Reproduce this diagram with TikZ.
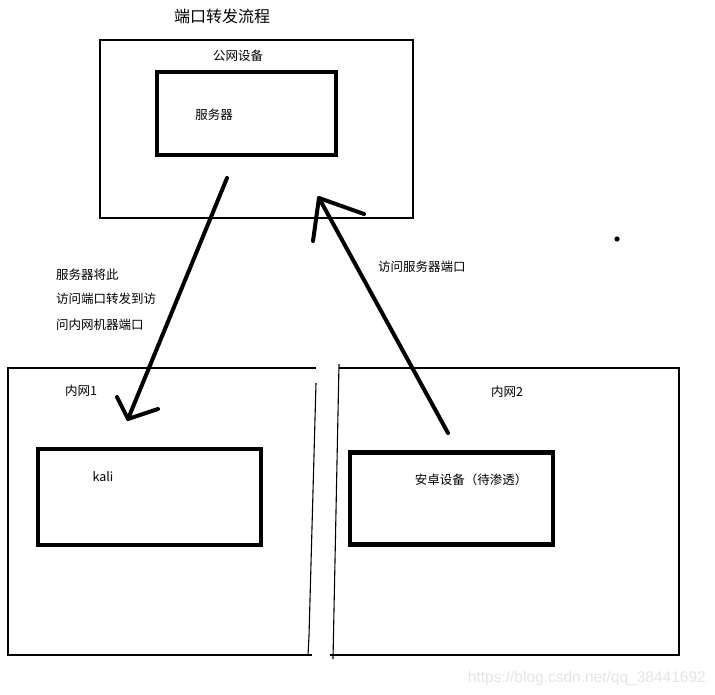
\documentclass[tikz,border=0pt]{standalone}
\usepackage{fontspec}
\setmainfont{Noto Sans CJK SC}
\newfontfamily\wmfont{Liberation Sans}
\begin{document}
\begin{tikzpicture}[x=1pt,y=-1pt,
  thinline/.style={line width=1.1pt},
  thickbox/.style={draw,line width=4.8pt,inner sep=0pt},
  handarrow/.style={line width=4pt,line cap=round,line join=round},
  lbl/.style={font=\fontsize{12.5}{15}\selectfont,inner sep=0pt},
  ttl/.style={font=\fontsize{16}{19}\selectfont,inner sep=0pt},
  wm/.style={font=\wmfont\fontsize{15.5}{18}\selectfont,text=black!10,inner sep=0pt}]
\useasboundingbox[fill=white] (0,0) rectangle (715,694);

% title
\node[ttl] (title) at (222,16) {端口转发流程};

% public network box
\node[draw,thinline,minimum width=313pt,minimum height=178pt,inner sep=0pt] (pub) at (256.5,129) {};
\node[lbl] (publbl) at (238,56) {公网设备};
\node[thickbox,minimum width=179pt,minimum height=83pt] (server) at (246.5,113.5) {};
\node[lbl] (serverlbl) at (214,115) {服务器};

% inner network 1 (hand drawn outline)
\coordinate (n1a) at (8,368);
\coordinate (n1b) at (316,368);
\coordinate (n1c) at (316,383);
\coordinate (n1d) at (309,636);
\coordinate (n1e) at (308,655);
\coordinate (n1f) at (312,655);
\coordinate (n1g) at (8,655);
\draw[thinline] (n1b) -- (n1a) -- (n1g) -- (n1f);
\draw[thinline] (n1c) -- (n1d) -- (n1e);
\node[lbl] (n1lbl) at (81,391) {内网1};
\node[thickbox,minimum width=223pt,minimum height=96pt] (kali) at (149.5,497) {};
\node[lbl] (kalilbl) at (103,477) {kali};

% inner network 2 (hand drawn outline)
\coordinate (n2a) at (339,364);
\coordinate (n2b) at (339,368);
\coordinate (n2c) at (679,368);
\coordinate (n2d) at (679,655);
\coordinate (n2e) at (330,655);
\coordinate (n2f) at (333,659);
\draw[thinline] (n2b) -- (n2c) -- (n2d) -- (n2e);
\draw[thinline] (n2a) -- (n2f);
\node[lbl] (n2lbl) at (507,392) {内网2};
\node[thickbox,minimum width=203pt,minimum height=92pt] (android) at (451.5,498.5) {};
\node[lbl] (androidlbl) at (471,480) {安卓设备（待渗透）};

% arrow 1: server forwards to kali
\coordinate (a1s) at (227,178);
\coordinate (a1t) at (128,419);
\coordinate (a1l) at (117,397);
\coordinate (a1r) at (158,409);
\draw[handarrow] (a1s) -- (a1t);
\draw[handarrow] (a1l) -- (a1t) -- (a1r);

% arrow 2: android accesses server port
\coordinate (a2s) at (448,433);
\coordinate (a2t) at (319,198);
\coordinate (a2l) at (313,241);
\coordinate (a2r) at (364,214);
\draw[handarrow] (a2s) -- (a2t);
\draw[handarrow] (a2l) -- (a2t) -- (a2r);

% stray dot
\coordinate (dot) at (617,239);
\fill (dot) circle (2.6pt);

% labels
\node[lbl,anchor=west] (l1) at (56,275) {服务器将此};
\node[lbl,anchor=west] (l2) at (56,299) {访问端口转发到访};
\node[lbl,anchor=west] (l3) at (56,325) {问内网机器端口};
\node[lbl,anchor=west] (l4) at (378,267) {访问服务器端口};

% watermark
\node[wm,anchor=east] (wmk) at (706,678) {https://blog.csdn.net/qq\_38441692};
\end{tikzpicture}
\end{document}
